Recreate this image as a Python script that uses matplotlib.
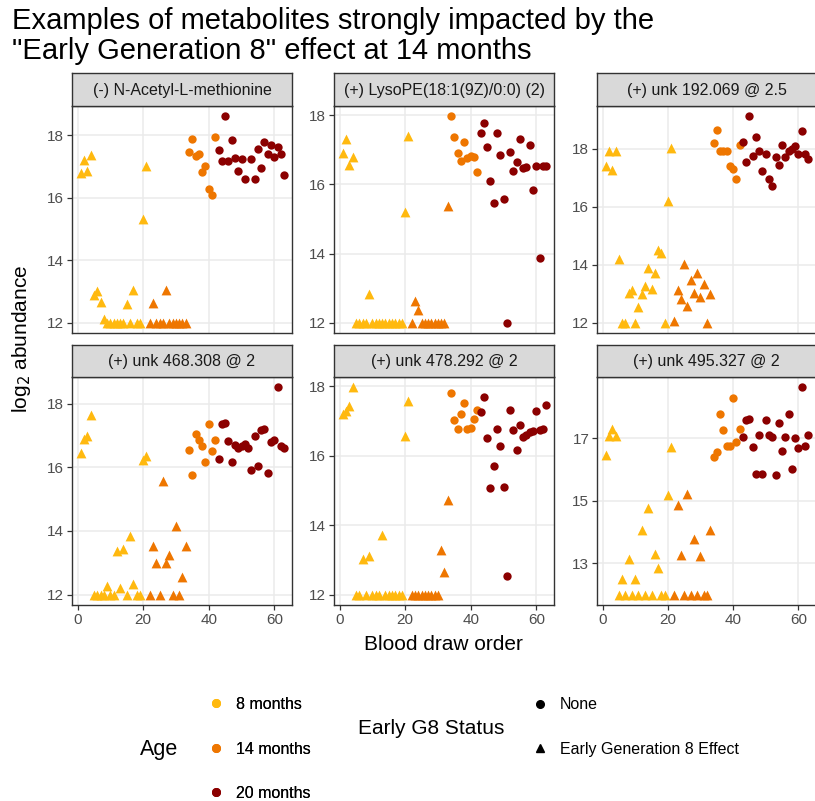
import matplotlib
matplotlib.use("Agg")
import matplotlib.pyplot as plt
from matplotlib.lines import Line2D

plt.rcParams['font.family'] = ['Liberation Sans', 'DejaVu Sans']

# ---- samples: blood draw order, age group and early-G8 status ----
draw_order = [1, 2, 3, 4, 5, 6, 7, 8, 9, 10, 11, 12, 13, 14, 15, 16, 17, 18, 19, 20, 21,
              22, 23, 24, 25, 26, 27, 28, 29, 30, 31, 32, 33, 34, 35, 36, 37, 38, 39, 40, 41, 42,
              43, 44, 45, 46, 47, 48, 49, 50, 51, 52, 53, 54, 55, 56, 57, 58, 59, 60, 61, 62, 63]
age = ["8 months"] * 21 + ["14 months"] * 21 + ["20 months"] * 21
g8_status = ["Early Generation 8 Effect"] * 33 + ["None"] * 30

age_levels = ["8 months", "14 months", "20 months"]
age_colors = ["#FFB90F", "#EE7600", "#8B0000"]
status_levels = ["None", "Early Generation 8 Effect"]
status_markers = ["o", "^"]

# ---- log2 abundance per metabolite (one value per sample, None = not measured) ----
titles = ["(-) N-Acetyl-L-methionine", "(+) LysoPE(18:1(9Z)/0:0) (2)", "(+) unk 192.069 @ 2.5",
          "(+) unk 468.308 @ 2", "(+) unk 478.292 @ 2", "(+) unk 495.327 @ 2"]

n_acetyl_methionine = [
    16.8, 17.2, 16.85, 17.35, 12.9, 13.0, 12.66, 12.12, 12, 12, 12, 12, 12, 12, 12.6, 12, 13.05, 12, 12, 15.33, 17.02,
    12, 12.62, 12, 12, 12, 13.06, 12, 12, 12, 12, 12, 12,
    17.45, 17.86, 17.33, 17.39, 16.82, 17.02, 16.28, 16.09, 17.95,
    17.53, 17.17, 18.6, 17.17, 17.84, 17.28, 16.86, 17.24, 16.59, None, 17.25, 16.6, 17.55, 16.95,
    17.78, 17.39, 17.68, 17.29, 17.62, 17.39, 16.72]
lysope_18_1 = [
    16.9, 17.3, 16.57, 16.8, 12, 12, 12, 12, 12.82, 12, 12, 12, 12, 12, 12, 12, 12, 12, 12, 15.2, 17.4,
    12, 12.64, 12.36, 12, 12, 12, 12, 12, 12, 12, 12, 15.37,
    17.97, 17.37, 16.91, 16.67, 17.22, 16.77, 16.82, 16.79, 16.36,
    17.5, 17.78, 17.07, 16.1, 15.47, 17.5, 16.86, 15.59, 12.0, 16.95, 16.39, 16.64, 17.3, 16.47,
    16.5, 17.15, 15.83, 16.53, 13.86, 16.53, 16.53]
unk_192_069 = [
    17.39, 17.94, 17.28, 17.94, 14.18, 12, 12, 13.03, 13.13, 12, 12.55, 12.98, 13.26, 13.9, 13.17, 13.72, 14.51, 14.39,
    12, 16.2, 18.03,
    12.06, 13.13, 12.8, 14.02, 12.58, 13.47, 13.03, 13.7, 12.9, 13.35, 12.0, 12.98,
    18.19, 18.64, 17.92, 17.92, 17.92, 17.39, 17.3, 16.97, 18.13,
    18.24, 17.55, 19.12, 17.75, 18.39, 17.91, 17.23, 17.82, 16.95, 16.73, 17.7, 17.43, 18.13, 17.71,
    17.94, 17.99, 18.1, 17.83, 18.63, 17.83, 17.64]
unk_468_308 = [
    16.45, 16.9, 16.97, 17.63, 12, 12, 12, 12, 12.26, 12, 12, 13.36, 12.21, 13.43, 12, 13.83, 12.34, 12, 12, 16.22, 16.35,
    12, 13.52, 13.0, 12, 15.58, 13.0, 13.26, 12, 14.17, 12, 12.55, 13.52,
    16.55, 15.75, 17.05, 16.85, 16.68, 16.16, 17.36, 16.52, 16.85,
    16.26, 17.37, 17.39, 16.82, 16.18, 16.71, 16.59, 16.66, 16.74, 16.59, 15.9, 16.97, 16.03, 17.16,
    17.2, 15.82, 16.79, 16.85, 18.51, 16.68, 16.61]
unk_478_292 = [
    17.19, 17.3, 17.43, 17.97, 12, 12, 13.04, 12, 13.11, 12, 12, 12, 13.73, 12, 12, 12, 12, 12, 12, 16.56, 17.57,
    12, 12, 12, 12, 12, 12, 12, 12, 12, 13.3, 12.66, 14.73,
    17.81, 17.03, 16.77, 17.2, 17.51, 16.76, 16.8, 17.06, 17.31,
    17.26, 17.68, 16.5, 15.06, 15.71, 16.77, 16.29, 15.11, 12.54, 17.32, 16.73, 16.18, 16.9, 16.54,
    16.6, 16.69, 16.71, 17.29, 16.73, 16.78, 17.47]
unk_495_327 = [
    16.47, 17.08, 17.3, 17.08, 12, 12.49, 12, 13.13, 12, 12.49, 12, 14.07, 12, 14.76, 12, 13.3, 12.85, 12, 12, 15.18, 16.71,
    12, 14.85, 13.27, 12, 15.22, 12, 13.78, 12, 13.23, 12, 12, 14.07,
    16.41, 16.57, 17.78, 17.25, 16.75, 16.75, 18.28, 16.86, 17.29,
    17.05, 17.57, 17.61, 16.73, 15.86, 17.11, 15.86, 17.57, 17.09, 17.03, 15.83, 17.48, 16.58, 17.03,
    17.78, 16.01, 17.01, 16.68, 18.62, 16.75, 17.11]

panel_values = [n_acetyl_methionine, lysope_18_1, unk_192_069, unk_468_308, unk_478_292, unk_495_327]
panel_yticks = [[12, 14, 16, 18], [12, 14, 16, 18], [12, 14, 16, 18],
                [12, 14, 16, 18], [12, 14, 16, 18], [13, 15, 17]]
x_ticks = [0, 20, 40, 60]

# ---- figure geometry (pixels) ----
W, H = 815, 801
fig = plt.figure(figsize=(W / 100, H / 100), dpi=100)


def box(l, t, r, b):
    return [l / W, 1 - b / H, (r - l) / W, (b - t) / H]


col_px = [(72, 292), (334, 554), (597, 816)]
row_px = [(73, 106, 333), (345, 377, 605)]

grid_col = "#EBEBEB"
frame_col = "#333333"
tick_lab_col = "#4D4D4D"

for i, (title, vals) in enumerate(zip(titles, panel_values)):
    r, c = divmod(i, 3)
    l, rr = col_px[c]
    st, pt, pb = row_px[r]
    ax = fig.add_axes(box(l, pt, rr, pb))

    # strip
    sax = fig.add_axes(box(l, st, rr, pt))
    sax.set_xticks([]); sax.set_yticks([])
    sax.set_facecolor("#D9D9D9")
    for sp in sax.spines.values():
        sp.set_color(frame_col); sp.set_linewidth(1.0)
    sax.text(0.5, 0.47, title, ha="center", va="center", fontsize=11.5, color="#1A1A1A",
             transform=sax.transAxes)

    # points, grouped by age colour and G8 status shape
    for a_lev, a_col in zip(age_levels, age_colors):
        for s_lev, s_mark in zip(status_levels, status_markers):
            xs = [x for x, a, s, v in zip(draw_order, age, g8_status, vals)
                  if a == a_lev and s == s_lev and v is not None]
            ys = [v for x, a, s, v in zip(draw_order, age, g8_status, vals)
                  if a == a_lev and s == s_lev and v is not None]
            if xs:
                ax.scatter(xs, ys, marker=s_mark, s=50 if s_mark == "^" else 36,
                           color=a_col, linewidths=0, zorder=3)

    present = [v for v in vals if v is not None]
    lo, hi = min(present), max(present)
    pad = 0.05 * (hi - lo)
    ax.set_ylim(lo - pad, hi + pad)
    ax.set_xlim(-1.7, 65.4)
    ax.set_yticks(panel_yticks[i])
    ax.set_xticks(x_ticks)
    ax.grid(True, color=grid_col, linewidth=1.1, zorder=0)
    ax.set_axisbelow(True)
    for sp in ax.spines.values():
        sp.set_color(frame_col); sp.set_linewidth(1.0)
    ax.tick_params(axis="both", length=3.5, width=0.9, color=frame_col,
                   labelsize=11, labelcolor=tick_lab_col, pad=2)
    if r == 0:
        ax.tick_params(axis="x", bottom=False, labelbottom=False)

# ---- titles ----
fig.text(12 / W, 1 - 7 / H, "Examples of metabolites strongly impacted by the\n\"Early Generation 8\" effect at 14 months",
         ha="left", va="top", fontsize=21, linespacing=1.08, color="black")
fig.text(443 / W, 1 - 645 / H, "Blood draw order", ha="center", va="center", fontsize=15)
fig.text(22 / W, 1 - 339 / H, r"log$_2$ abundance", ha="center", va="center", fontsize=15, rotation=90)

# ---- legends ----
fig.text(140 / W, 1 - 750 / H, "Age", ha="left", va="center", fontsize=15.5)
age_handles = [Line2D([], [], marker="o", linestyle="none", color=c, markersize=5.5) for c in age_colors]
leg1 = fig.legend(age_handles, age_levels, loc="center left", bbox_to_anchor=(198 / W, 1 - 749 / H),
                  frameon=False, fontsize=11.5, labelspacing=1.85, handletextpad=0.65, handlelength=1.2,
                  borderpad=0)
fig.add_artist(leg1)

fig.text(358 / W, 1 - 728 / H, "Early G8 Status", ha="left", va="center", fontsize=15)
shape_handles = [Line2D([], [], marker=m, linestyle="none", color="black", markersize=5.5)
                 for m in status_markers]
fig.legend(shape_handles, status_levels, loc="center left", bbox_to_anchor=(522 / W, 1 - 727 / H),
           frameon=False, fontsize=11.5, labelspacing=1.85, handletextpad=0.65, handlelength=1.2,
           borderpad=0)

fig.savefig("out.png", dpi=100)
